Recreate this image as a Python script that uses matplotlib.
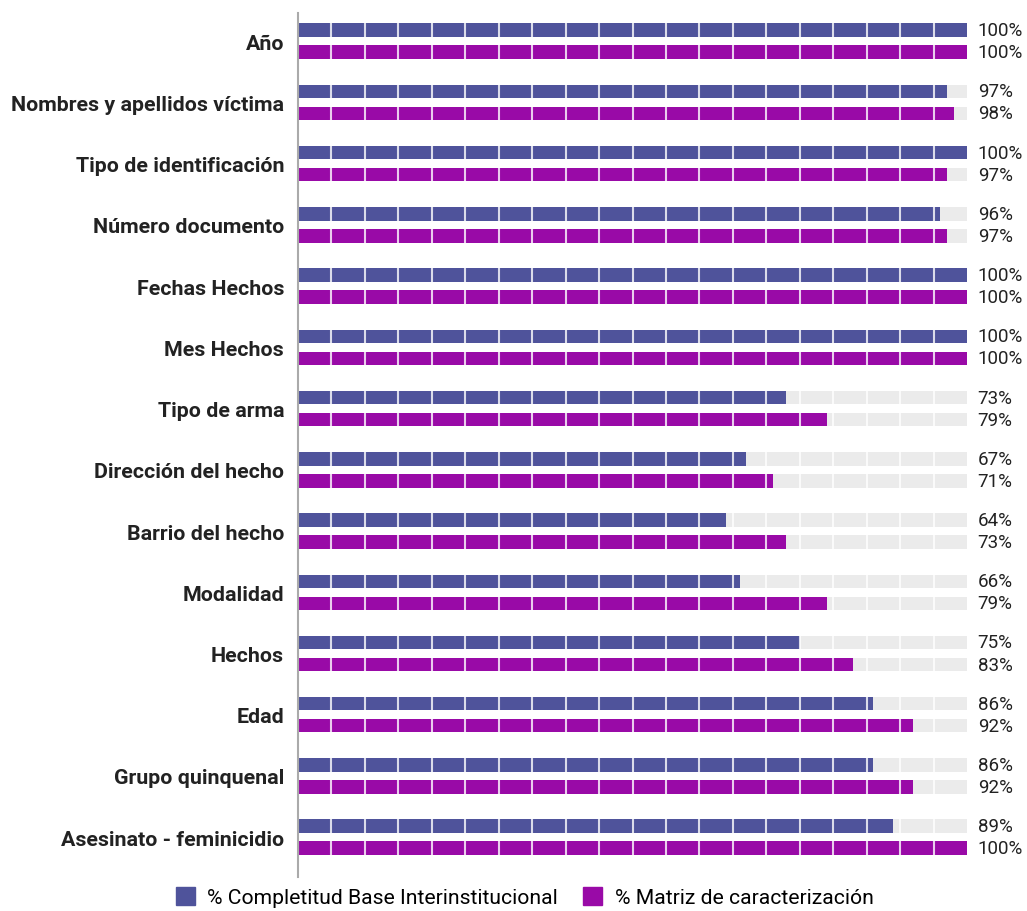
import numpy as np
import matplotlib.pyplot as plt
from matplotlib.patches import Patch

# Categories and values (%)
categorias = ['Año', 'Nombres y apellidos víctima', 'Tipo de identificación',
              'Número documento', 'Fechas Hechos', 'Mes Hechos', 'Tipo de arma',
              'Dirección del hecho', 'Barrio del hecho', 'Modalidad', 'Hechos',
              'Edad', 'Grupo quinquenal', 'Asesinato - feminicidio']
base_inter = [100, 97, 100, 96, 100, 100, 73, 67, 64, 66, 75, 86, 86, 89]
matriz = [100, 98, 97, 97, 100, 100, 79, 71, 73, 79, 83, 92, 92, 100]
leyenda = ['% Completitud Base Interinstitucional', '% Matriz de caracterización']

c_blue = '#4F539B'
c_mag = '#990AA7'
c_track = '#EBEBEB'

plt.rcParams['font.family'] = ['Roboto', 'DejaVu Sans']

fig = plt.figure(figsize=(10.27, 9.12), dpi=100)
ax = fig.add_axes([298 / 1027, 1 - 878 / 912, 669 / 1027, 864 / 912])

y = np.arange(len(categorias))
h = 0.22
off = 0.18

# gray tracks up to 100%
ax.barh(y - off, 100, height=h, color=c_track, zorder=1)
ax.barh(y + off, 100, height=h, color=c_track, zorder=1)
ax.barh(y - off, base_inter, height=h, color=c_blue, zorder=2)
ax.barh(y + off, matriz, height=h, color=c_mag, zorder=2)

# white segment separators every 5%
for xv in range(5, 100, 5):
    ax.axvline(xv, color='white', lw=1.5, alpha=0.8, zorder=3)

# value labels
for i in range(len(categorias)):
    ax.text(101.6, y[i] - off, f'{base_inter[i]}%', va='center', ha='left',
            fontsize=13.5, color='#222222', clip_on=False)
    ax.text(101.6, y[i] + off, f'{matriz[i]}%', va='center', ha='left',
            fontsize=13.5, color='#222222', clip_on=False)

ax.set_xlim(0, 100)
ax.set_ylim(13.65, -0.46)
ax.set_yticks(y)
ax.set_yticklabels(categorias, fontsize=15.4, fontweight='bold', color='#222222')
ax.tick_params(axis='y', length=0, pad=10)
ax.set_xticks([])
for s in ['top', 'right', 'bottom']:
    ax.spines[s].set_visible(False)
ax.spines['left'].set_color('#AAAAAA')
ax.spines['left'].set_linewidth(1.5)
ax.spines['left'].set_zorder(4)

handles = [Patch(color=c_blue), Patch(color=c_mag)]
fig.legend(handles, leyenda, loc='center', bbox_to_anchor=(0.511, 1 - 898 / 912),
           ncol=2, frameon=False, fontsize=15.2, handlelength=0.9, handleheight=0.9,
           handletextpad=0.6, columnspacing=1.2)

fig.savefig('out.png', dpi=100)
